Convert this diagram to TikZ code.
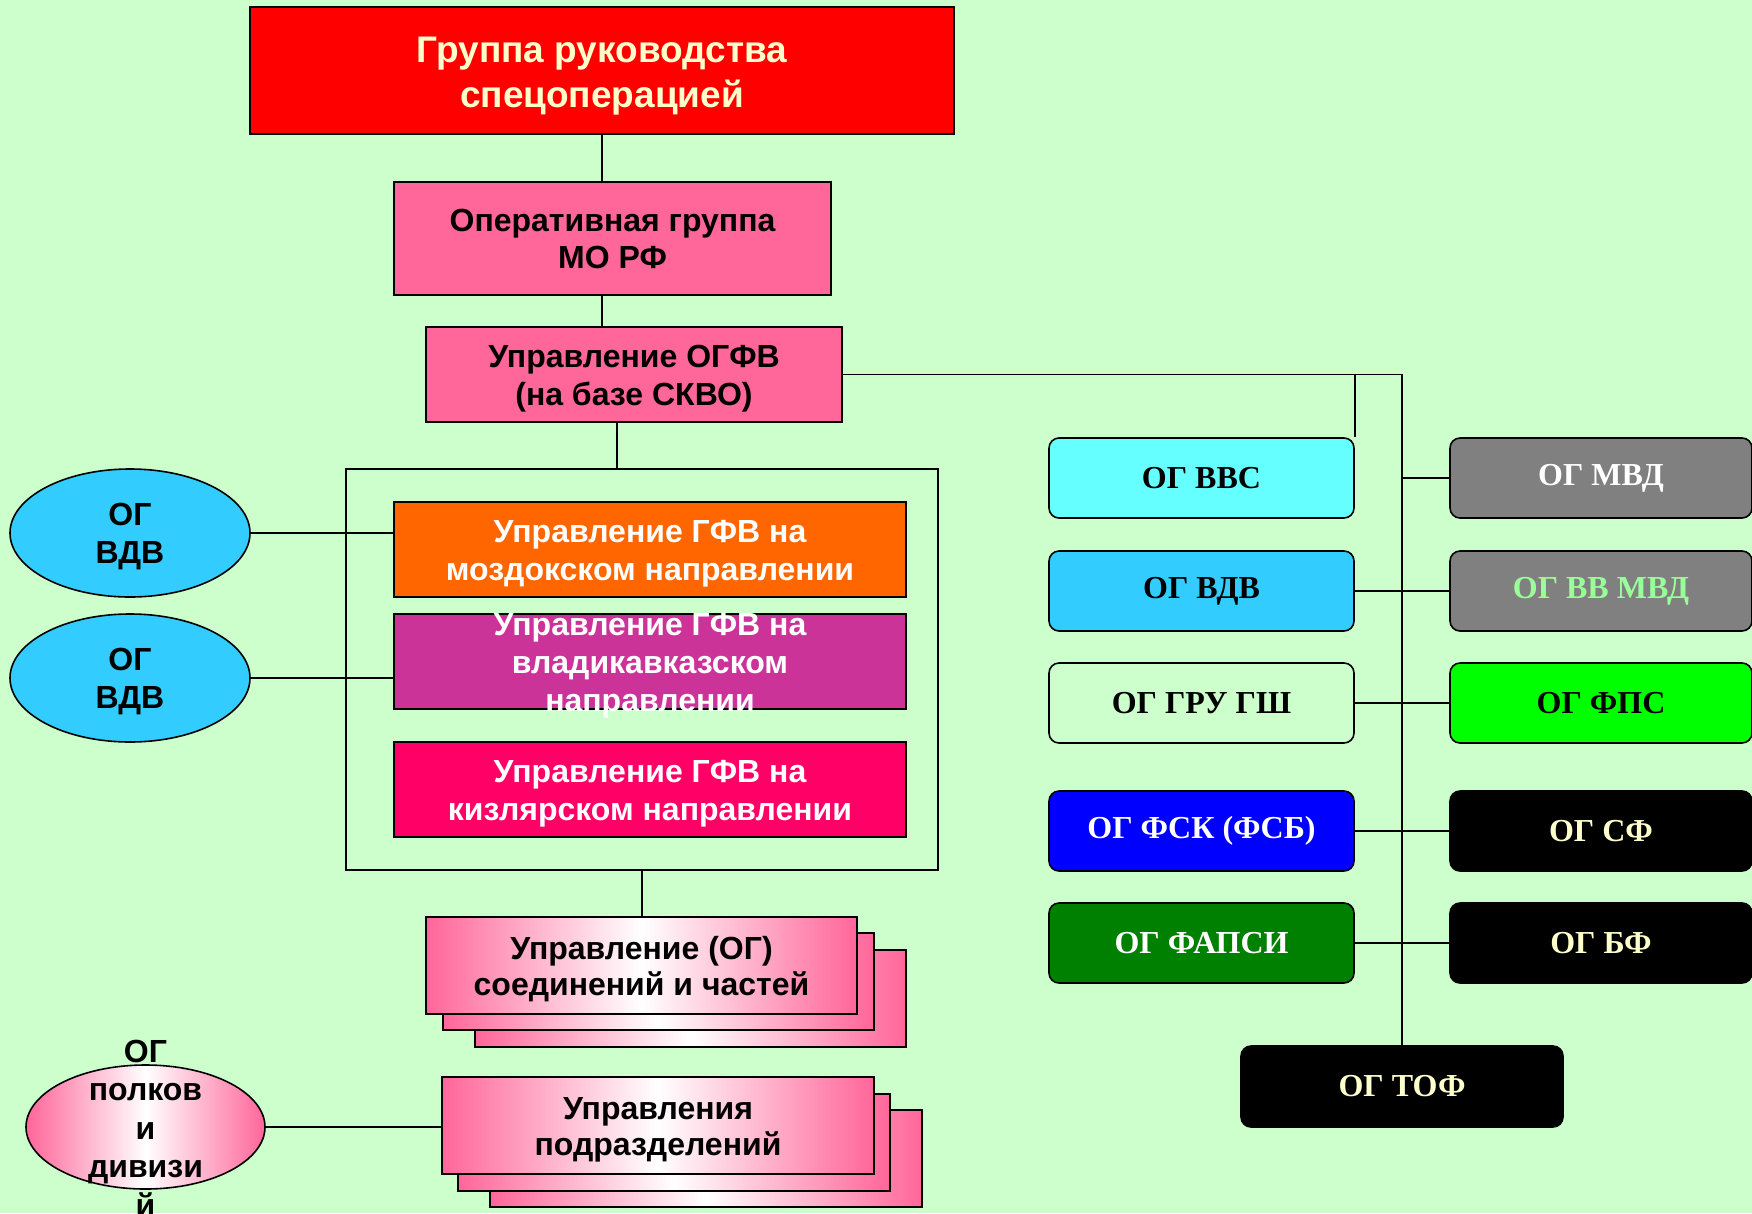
\documentclass[tikz,border=0pt]{standalone}
\usepackage{fontspec}
\setmainfont{Liberation Sans}
\newfontfamily\tnrfont{Liberation Serif}
\usetikzlibrary{shapes.geometric}
\definecolor{bg}{HTML}{CCFFCC}
\definecolor{redbox}{HTML}{FF0000}
\definecolor{ltyel}{HTML}{FFFFCC}
\definecolor{pink0}{HTML}{FF6699}
\definecolor{orange0}{HTML}{FF6600}
\definecolor{purple0}{HTML}{CC3399}
\definecolor{magenta0}{HTML}{FF0066}
\definecolor{sky0}{HTML}{33CCFF}
\definecolor{cyan0}{HTML}{66FFFF}
\definecolor{grey0}{HTML}{808080}
\definecolor{ltgreen}{HTML}{99FF99}
\definecolor{green0}{HTML}{00FF00}
\definecolor{dkgreen}{HTML}{008000}
\definecolor{blue0}{HTML}{0000FF}
\tikzset{
  box/.style={draw, line width=2pt, rectangle, inner sep=0pt},
  oval/.style={draw, line width=1.6pt, ellipse, inner sep=0pt,
    minimum width=240pt, minimum height=128pt},
  stk/.style={draw, line width=2pt, rectangle, inner sep=0pt,
    minimum width=431pt, minimum height=97pt, left color=pink0, right color=pink0,
    middle color=white},
  ogbox/.style={draw, line width=1.6pt, rounded corners=10pt, inner sep=0pt,
    minimum width=305pt, minimum height=80pt, font=\tnrfont\bfseries\fontsize{32}{38}\selectfont},
  txt/.style={inner sep=0pt, align=center, yshift=-4pt, font=\bfseries\fontsize{32}{38}\selectfont},
  conn/.style={line width=1.6pt}
}
\begin{document}
\begin{tikzpicture}[x=1pt,y=-1pt]
\fill[bg] (0,0) rectangle (1752,1213);
\useasboundingbox (0,0) rectangle (1752,1213);

\node[box, fill=redbox, minimum width=704pt, minimum height=127pt] (n1) at (602,70.5) {};
\node[txt, text=ltyel, yshift=-1.5pt, font=\bfseries\fontsize{37}{45}\selectfont] (t1) at (n1) {Группа руководства\\спецоперацией};
\node[box, fill=pink0, minimum width=437pt, minimum height=113pt] (n2) at (612.5,238.5) {};
\node[txt, yshift=4pt, font=\bfseries\fontsize{32}{37}\selectfont] (t2) at (n2) {Оперативная группа\\МО РФ};
\node[box, fill=pink0, minimum width=416pt, minimum height=95pt] (n3) at (634,374.5) {};
\node[txt] (t3) at (n3) {Управление ОГФВ\\(на базе СКВО)};

\node[draw, line width=1.6pt, minimum width=592pt, minimum height=401pt] (f) at (642,669.5) {};
\node[box, fill=orange0, minimum width=512pt, minimum height=95pt] (n41) at (650,549.5) {};
\node[txt, text=white] (t41) at (n41) {Управление ГФВ на\\моздокском направлении};
\node[box, fill=purple0, minimum width=512pt, minimum height=95pt] (n42) at (650,661.5) {};
\node[txt, text=white] (t42) at (n42) {Управление ГФВ на\\владикавказском\\направлении};
\node[box, fill=magenta0, minimum width=512pt, minimum height=95pt] (n43) at (650,789.5) {};
\node[txt, text=white] (t43) at (n43) {Управление ГФВ на\\кизлярском направлении};

\node[oval, fill=sky0] (e1) at (130,533) {};
\node[txt] (te1) at (e1) {ОГ\\ВДВ};
\node[oval, fill=sky0] (e2) at (130,678) {};
\node[txt] (te2) at (e2) {ОГ\\ВДВ};

\node[stk] (n51c) at (690.5,998) {};
\node[stk] (n51b) at (658,981.5) {};
\node[stk] (n51) at (641.5,965.5) {};
\node[txt, font=\bfseries\fontsize{32}{36}\selectfont] (t51) at (n51) {Управление (ОГ)\\соединений и частей};

\node[stk, minimum width=432pt] (n52c) at (706,1158) {};
\node[stk, minimum width=432pt] (n52b) at (674,1142) {};
\node[stk, minimum width=432pt] (n52) at (658,1125.5) {};
\node[txt, font=\bfseries\fontsize{32}{36}\selectfont] (t52) at (n52) {Управления\\подразделений};

\node[oval, left color=pink0, right color=pink0, middle color=white,
  minimum width=239pt, minimum height=124pt] (e3) at (145.5,1127) {};
\node[txt, yshift=3pt, font=\bfseries\fontsize{32}{38.5}\selectfont] (te3) at (e3) {ОГ\\полков\\и\\дивизи\\й};

\node[ogbox, fill=cyan0] (r1) at (1201.5,478) {ОГ ВВС};
\node[ogbox, fill=sky0] (r2) at (1201.5,591) {ОГ ВДВ};
\node[ogbox, fill=bg] (r3) at (1201.5,703) {ОГ ГРУ ГШ};
\node[ogbox, fill=blue0, text=white] (r4) at (1201.5,831) {ОГ ФСК (ФСБ)};
\node[ogbox, fill=dkgreen, text=white] (r5) at (1201.5,943) {ОГ ФАПСИ};

\node[ogbox, fill=grey0, text=white, minimum width=302pt] (s1) at (1601,478) {ОГ МВД};
\node[ogbox, fill=grey0, text=ltgreen, minimum width=302pt] (s2) at (1601,591) {ОГ ВВ МВД};
\node[ogbox, fill=green0, minimum width=302pt] (s3) at (1601,703) {ОГ ФПС};
\node[ogbox, fill=black, text=ltyel, minimum width=302pt] (s4) at (1601,831) {ОГ СФ};
\node[ogbox, fill=black, text=ltyel, minimum width=302pt] (s5) at (1601,943) {ОГ БФ};
\node[ogbox, fill=black, text=ltyel, minimum width=322pt, minimum height=81pt] (n6) at (1402,1086.5) {ОГ ТОФ};

\coordinate (c3) at (617,422);

\draw[conn] (n1.south) -- (n1.south |- n2.north);
\draw[conn] (n1.south |- n2.south) -- (n1.south |- n3.north);
\draw[conn] (c3) -- (c3 |- f.north);
\draw[conn] (f.south) -- (f.south |- n51.north);
\draw[conn] (e1.east) -- (e1.east -| n41.west);
\draw[conn] (e2.east) -- (e2.east -| n42.west);
\draw[conn] (e3.east) -- (e3.east -| n52.west);

\draw[conn] (n3.east) -- (n3.east -| n6.north) -- (n6.north);
\draw[conn] (n3.east -| r1.north east) -- (r1.north east);
\draw[conn] (n6.north |- s1.west) -- (s1.west);
\draw[conn] (r2.east) -- (s2.west);
\draw[conn] (r3.east) -- (s3.west);
\draw[conn] (r4.east) -- (s4.west);
\draw[conn] (r5.east) -- (s5.west);

\end{tikzpicture}
\end{document}
